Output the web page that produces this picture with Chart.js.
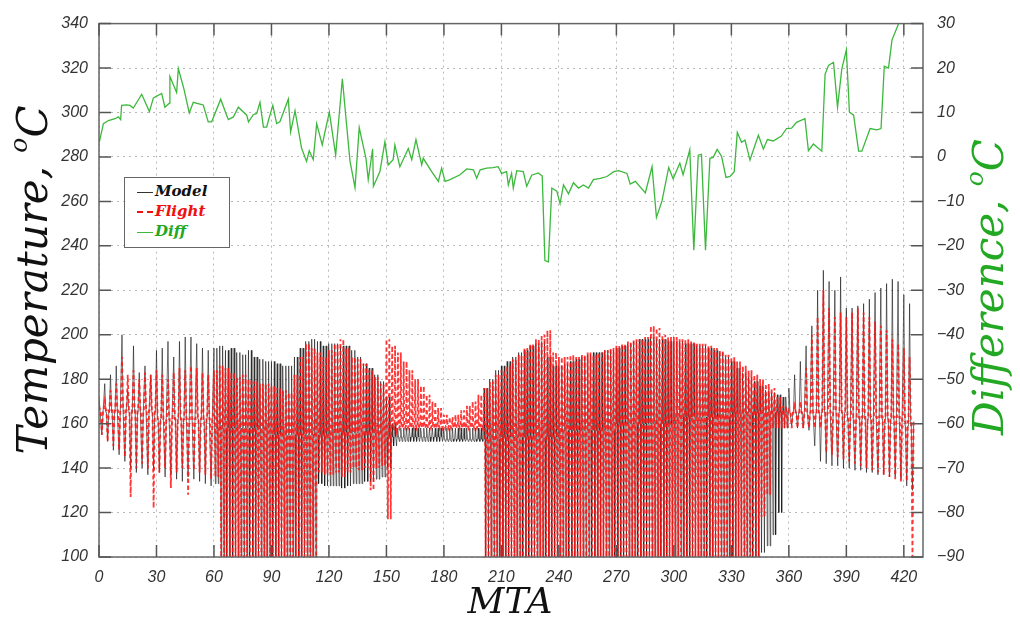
<!DOCTYPE html>
<html lang="en">
<head>
    <meta charset="UTF-8">
    <title>Model vs Flight temperature over MTA</title>
    <style>
        body {
            margin: 0;
            background: #fff;
        }
        #wrap {
            position: relative;
            width: 1020px;
            height: 620px;
        }
        #legend {
            position: absolute;
            left: 124px;
            top: 177px;
            width: 104px;
            height: 69px;
            border: 1.5px solid #666;
            background: #fff;
            font-family: 'DejaVu Serif', serif;
            font-style: italic;
            font-weight: bold;
            font-size: 15px;
        }
        .row {
            position: absolute;
            left: 12px;
            height: 20px;
            line-height: 20px;
            white-space: nowrap;
        }
        .sample {
            display: inline-block;
            width: 16px;
            vertical-align: middle;
            margin-right: 2px;
        }
    </style>
</head>
<body>
    <div id="wrap">
        <canvas id="myChart" width="1020" height="620"></canvas>
        <div id="legend">
            <div class="row" style="top:3px;color:#111"><span class="sample" style="border-top:1px solid #333"></span>Model</div>
            <div class="row" style="top:23px;color:#f01010"><span class="sample" style="border-top:2px dashed #f01010"></span>Flight</div>
            <div class="row" style="top:43px;color:#22a822"><span class="sample" style="border-top:1px solid #3cb83c"></span>Diff</div>
        </div>
    </div>

    <script src="https://cdn.jsdelivr.net/npm/chart.js"></script>
    <script>
        // tick labels
        const mtaTicks = [0, 30, 60, 90, 120, 150, 180, 210, 240, 270, 300, 330, 360, 390, 420];
        const tempTicks = [100, 120, 140, 160, 180, 200, 220, 240, 260, 280, 300, 320, 340];
        const diffTicks = [-90, -80, -70, -60, -50, -40, -30, -20, -10, 0, 10, 20, 30];

        // peak and trough of the oscillation every 3 MTA
        const cycleStep = 3;
        const modelHi = [
            172, 178, 182, 186, 200, 175, 195, 183, 186, 182,
            193, 194, 197, 190, 197, 199, 199, 196, 194, 193,
            194, 195, 193, 194, 192, 191, 193, 190, 189, 188,
            188, 187, 186, 186, 190, 194, 197, 198, 197, 195,
            196, 196, 195, 195, 193, 190, 187, 185, 182, 179,
            172, 160, 158, 158, 158, 158, 158, 158, 158, 158,
            158, 158, 158, 158, 158, 158, 158, 176, 180, 184,
            186, 188, 190, 192, 193, 195, 196, 197, 190, 186,
            186, 187, 188, 189, 190, 191, 192, 192, 193, 193,
            194, 195, 196, 197, 198, 198, 199, 198, 198, 197,
            197, 197, 196, 196, 195, 195, 194, 193, 192, 190,
            188, 185, 183, 181, 179, 177, 175, 174, 173, 172,
            176, 182, 188, 195, 204, 220, 229, 224, 220, 226,
            212, 212, 213, 214, 216, 219, 221, 223, 225, 224,
            218, 214
        ];
        const modelLo = [
            155, 152, 148, 146, 143, 140, 138, 140, 137, 139,
            138, 136, 137, 135, 134, 136, 135, 134, 133, 132,
            133, 100, 100, 100, 100, 100, 100, 100, 100, 100,
            100, 100, 100, 100, 100, 100, 100, 100, 133, 132,
            132, 132, 131, 132, 133, 133, 134, 134, 135, 136,
            140, 150, 152, 152, 152, 152, 152, 152, 152, 152,
            152, 152, 152, 152, 152, 152, 152, 100, 100, 100,
            100, 100, 100, 100, 100, 100, 100, 100, 100, 100,
            100, 100, 100, 100, 100, 100, 100, 100, 100, 100,
            100, 100, 100, 100, 100, 100, 100, 100, 100, 100,
            100, 100, 100, 100, 100, 100, 100, 100, 100, 100,
            100, 100, 100, 100, 100, 102, 105, 110, 120, 158,
            159, 158, 158, 157, 150, 143, 142, 141, 141, 140,
            140, 139, 139, 138, 138, 137, 137, 136, 136, 135,
            132, 130
        ];
        const flightHi = [
            168, 170, 175, 178, 190, 182, 184, 180, 183, 182,
            184, 182, 180, 183, 185, 184, 186, 185, 183, 182,
            184, 186, 185, 183, 181, 182, 180, 179, 178, 178,
            177, 176, 175, 174, 182, 190, 196, 194, 192, 190,
            193, 196, 198, 194, 190, 189, 187, 184, 181, 178,
            198, 195, 192, 188, 184, 180, 177, 173, 170, 167,
            164, 163, 164, 166, 168, 170, 173, 176, 179, 182,
            184, 186, 189, 191, 194, 196, 198, 200, 202, 192,
            190, 190, 191, 190, 191, 192, 191, 192, 193, 194,
            195, 196, 197, 198, 198, 199, 204, 203, 200, 199,
            199, 198, 198, 197, 196, 196, 195, 194, 193, 191,
            190, 188, 186, 184, 182, 180, 178, 176, 172, 168,
            166, 168, 170, 185, 200, 208, 220, 212, 208, 210,
            208, 210, 212, 210, 208, 206, 204, 202, 198, 196,
            194, 190
        ];
        const flightLo = [
            155, 152, 150, 148, 145, 127, 140, 142, 140, 122,
            138, 140, 131, 138, 140, 128, 139, 138, 137, 135,
            136, 100, 100, 100, 100, 100, 100, 100, 100, 100,
            100, 100, 100, 100, 100, 100, 100, 100, 138, 137,
            137, 138, 136, 138, 140, 139, 140, 130, 140, 141,
            117, 157, 158, 158, 158, 158, 158, 158, 158, 158,
            158, 158, 158, 158, 158, 158, 158, 100, 100, 100,
            100, 100, 100, 100, 100, 100, 100, 100, 100, 100,
            100, 100, 100, 100, 100, 100, 100, 100, 100, 100,
            100, 100, 100, 100, 100, 100, 100, 100, 100, 100,
            100, 100, 100, 100, 100, 100, 100, 100, 100, 100,
            100, 100, 100, 100, 100, 118, 128, 158, 158, 158,
            158, 158, 158, 158, 158, 158, 147, 146, 145, 144,
            143, 142, 141, 140, 139, 138, 137, 136, 135, 134,
            134, 100
        ];
        // per 30 MTA block: level the swings run through, and swings per 3 MTA
        const modelBase = [165, 162, 158, 155, 156, 154, 153, 154, 157, 160, 163, 165, 165, 162, 159];
        const flightBase = [166, 162, 160, 158, 159, 159, 159, 159, 160, 162, 164, 165, 165, 163, 161];
        const swingsPerCycle = [1, 1, 2, 2, 2, 2, 2, 2, 2, 2, 2, 2, 1, 1, 1];

        // Diff trace vertices
        const diffX = [
            0.2, 2.3, 4.9, 8.4, 10.1, 11.3, 11.8, 14.4, 16.2, 17.9, 22.3, 26.3, 28.4, 32.7, 34.4, 36.7, 37.0, 40.5, 41.4, 44.3,
            47.1, 49.2, 52.7, 54.4, 57.0, 58.8, 63.5, 66.6, 67.5, 70.1, 72.7, 77.1, 78.0, 80.5, 82.3, 84.0, 85.8, 87.5, 88.4, 90.7,
            92.7, 94.4, 98.8, 100.0, 102.3, 105.7, 108.3, 109.7, 111.8, 113.6, 116.5, 117.9, 120.2, 123.5, 127.0, 128.9, 131.0, 133.6, 135.8, 139.3,
            140.5, 142.8, 143.2, 146.6, 149.2, 150.9, 153.5, 154.4, 157.0, 161.4, 163.2, 165.4, 168.4, 169.2, 173.6, 177.1, 178.8, 180.6, 183.2, 188.4,
            191.9, 195.4, 197.1, 198.9, 202.3, 205.7, 208.3, 210.1, 212.7, 213.6, 215.3, 216.2, 218.0, 221.4, 223.2, 225.8, 229.3, 231.3, 232.7, 234.5,
            236.3, 238.9, 240.6, 242.4, 245.0, 247.6, 250.2, 252.8, 255.4, 258.0, 261.6, 265.1, 268.6, 271.2, 275.5, 277.2, 279.9, 285.1, 288.6, 290.9,
            293.8, 297.3, 299.6, 303.1, 304.8, 308.3, 310.4, 312.7, 314.4, 316.5, 318.8, 320.5, 322.6, 324.9, 327.2, 329.3, 331.5, 333.1, 335.3, 337.1,
            339.7, 344.1, 346.7, 348.8, 351.8, 356.1, 358.8, 361.4, 364.0, 368.4, 370.2, 372.8, 377.2, 378.9, 380.7, 383.3, 385.4, 387.6, 390.0, 391.6,
            393.8, 396.4, 398.1, 402.4, 405.9, 408.1, 409.8, 412.0, 413.8, 417.3, 419.0
        ];
        const diffY = [
            3.4, 7.5, 8.2, 8.6, 9.0, 8.4, 11.6, 11.7, 11.6, 11.0, 14.1, 10.2, 13.3, 14.3, 11.2, 12.1, 18.1, 14.5, 19.9, 15.3,
            9.9, 12.3, 11.9, 11.7, 7.9, 7.9, 13.0, 9.4, 8.4, 9.0, 11.2, 9.4, 7.9, 9.5, 9.8, 12.3, 6.7, 6.7, 8.2, 11.6,
            7.5, 7.9, 13.0, 5.6, 10.4, 2.0, -1.0, 1.4, -0.6, 7.5, 2.7, 5.6, 10.1, 0.4, 17.6, 8.6, -1.0, -6.9, 6.6, -0.3,
            -5.1, 1.8, -6.6, -3.3, 3.4, -1.8, -0.6, 2.7, -2.2, 1.9, -0.6, 3.9, -1.8, -0.3, -3.3, -5.5, -2.5, -5.5, -5.1, -4.0,
            -2.7, -2.9, -4.8, -2.9, -2.5, -2.4, -2.2, -3.7, -3.3, -6.3, -3.7, -7.0, -3.1, -3.3, -6.6, -4.1, -3.6, -4.3, -23.3, -23.6,
            -7.0, -7.7, -10.5, -6.3, -8.3, -5.8, -7.0, -6.3, -7.0, -5.1, -4.8, -4.4, -3.3, -3.1, -3.7, -6.1, -5.5, -8.1, -2.2, -13.6,
            -9.9, -2.4, -4.9, -1.4, -4.0, 1.6, -21.0, 0.4, 0.6, -21.0, -0.3, -0.1, 1.7, 0.1, -4.6, -4.4, -3.3, 5.5, 3.3, 3.8,
            -0.7, 4.9, 1.8, 3.9, 3.6, 4.7, 6.4, 6.5, 7.8, 8.6, 1.4, 2.9, 1.3, 18.6, 20.6, 21.3, 11.2, 19.7, 24.1, 10.1,
            9.4, 1.3, 1.3, 6.4, 6.1, 6.4, 20.4, 20.0, 26.3, 30.0, 32.0
        ];

        function cyclePoints(hi, lo, base) {
            const pts = [];
            hi.forEach((h, i) => {
                const x0 = i * cycleStep;
                const block = Math.floor(x0 / 30);
                const b = base[block];
                const n = swingsPerCycle[block];
                const w = cycleStep / n;
                for (let k = 0; k < n; k++) {
                    const xs = x0 + k * w;
                    pts.push({x: xs, y: h}, {x: xs + 0.2 * w, y: b}, {x: xs + 0.3 * w, y: b},
                             {x: xs + 0.5 * w, y: lo[i]}, {x: xs + 0.7 * w, y: b}, {x: xs + 0.8 * w, y: b});
                }
            });
            return pts;
        }

        const tickFont = {family: "'Liberation Sans', Arial, sans-serif", size: 16, style: 'italic'};
        const gridOpts = {color: '#b8b8b8', lineWidth: 1, drawTicks: false};

        // draws text + raised small "o" + "C", reading bottom to top
        function drawDegTitle(ctx, text, x, y, size, color) {
            ctx.save();
            ctx.translate(x, y);
            ctx.rotate(-Math.PI / 2);
            ctx.fillStyle = color;
            ctx.textBaseline = 'middle';
            const big = "italic " + size + "px 'DejaVu Serif', serif";
            const small = "italic " + Math.round(size * 0.6) + "px 'DejaVu Serif', serif";
            ctx.font = big;
            const wPre = ctx.measureText(text).width;
            const wC = ctx.measureText('C').width;
            ctx.font = small;
            const wO = ctx.measureText('o').width;
            let cx = -(wPre + wO + wC) / 2;
            ctx.font = big;
            ctx.fillText(text, cx, 0);
            cx += wPre;
            ctx.font = small;
            ctx.fillText('o', cx, -size * 0.38);
            cx += wO;
            ctx.font = big;
            ctx.fillText('C', cx, 0);
            ctx.restore();
        }

        const framePlugin = {
            id: 'frame',
            afterDatasetsDraw(chart) {
                const {ctx, chartArea: a, scales} = chart;
                ctx.save();
                ctx.strokeStyle = '#666';
                ctx.lineWidth = 1.5;
                ctx.strokeRect(a.left, a.top, a.right - a.left, a.bottom - a.top);
                ctx.strokeStyle = '#555';
                ctx.beginPath();
                const len = 12;
                mtaTicks.forEach(v => {
                    const px = scales.x.getPixelForValue(v);
                    ctx.moveTo(px, a.bottom); ctx.lineTo(px, a.bottom - len);
                    ctx.moveTo(px, a.top); ctx.lineTo(px, a.top + len);
                });
                tempTicks.forEach(v => {
                    const py = scales.y.getPixelForValue(v);
                    ctx.moveTo(a.left, py); ctx.lineTo(a.left + len, py);
                });
                diffTicks.forEach(v => {
                    const py = scales.y2.getPixelForValue(v);
                    ctx.moveTo(a.right, py); ctx.lineTo(a.right - len, py);
                });
                ctx.stroke();
                ctx.restore();
            },
            afterDraw(chart) {
                const ctx = chart.ctx;
                drawDegTitle(ctx, 'Temperature, ', 36, 280, 42, '#111');
                drawDegTitle(ctx, 'Difference, ', 992, 287, 42, '#22a822');
                ctx.save();
                ctx.font = "italic 36px 'DejaVu Serif', serif";
                ctx.fillStyle = '#111';
                ctx.textAlign = 'center';
                ctx.textBaseline = 'middle';
                ctx.fillText('MTA', 510, 604);
                ctx.restore();
            }
        };

        const ctx = document.getElementById('myChart').getContext('2d');
        const myChart = new Chart(ctx, {
            type: 'line',
            data: {
                datasets: [
                    {
                        label: 'Model',
                        data: cyclePoints(modelHi, modelLo, modelBase),
                        borderColor: 'rgba(20,20,20,0.6)',
                        borderWidth: 1,
                        yAxisID: 'y',
                        order: 2
                    },
                    {
                        label: 'Flight',
                        data: cyclePoints(flightHi, flightLo, flightBase),
                        borderColor: 'rgba(255,20,20,0.85)',
                        borderWidth: 1.8,
                        borderDash: [4, 3],
                        yAxisID: 'y',
                        order: 1
                    },
                    {
                        label: 'Diff',
                        data: diffX.map((x, i) => ({x: x, y: diffY[i]})),
                        borderColor: '#3cb83c',
                        borderWidth: 1.3,
                        yAxisID: 'y2',
                        order: 0
                    }
                ]
            },
            options: {
                responsive: false,
                animation: false,
                devicePixelRatio: 1,
                layout: {padding: {top: 17, left: 0, right: 0, bottom: 0}},
                elements: {point: {radius: 0}, line: {tension: 0, fill: false}},
                plugins: {legend: {display: false}, tooltip: {enabled: false}},
                scales: {
                    x: {
                        type: 'linear',
                        min: 0,
                        max: 430,
                        afterBuildTicks: s => { s.ticks = mtaTicks.map(v => ({value: v})); },
                        afterFit: s => { s.height = 63; },
                        ticks: {font: tickFont, color: '#333', padding: 11, maxRotation: 0},
                        grid: gridOpts,
                        border: {display: false, dash: [2, 4]}
                    },
                    y: {
                        type: 'linear',
                        position: 'left',
                        min: 100,
                        max: 340,
                        afterBuildTicks: s => { s.ticks = tempTicks.map(v => ({value: v})); },
                        afterFit: s => { s.width = 99; },
                        ticks: {font: tickFont, color: '#333', padding: 11},
                        grid: gridOpts,
                        border: {display: false, dash: [2, 4]}
                    },
                    y2: {
                        type: 'linear',
                        position: 'right',
                        min: -90,
                        max: 30,
                        afterBuildTicks: s => { s.ticks = diffTicks.map(v => ({value: v})); },
                        afterFit: s => { s.width = 97; },
                        ticks: {
                            font: tickFont,
                            color: '#333',
                            padding: 14,
                            callback: v => String(v).replace('-', '\u2212')
                        },
                        grid: {drawOnChartArea: false, drawTicks: false},
                        border: {display: false}
                    }
                }
            },
            plugins: [framePlugin]
        });
    </script>
</body>
</html>
